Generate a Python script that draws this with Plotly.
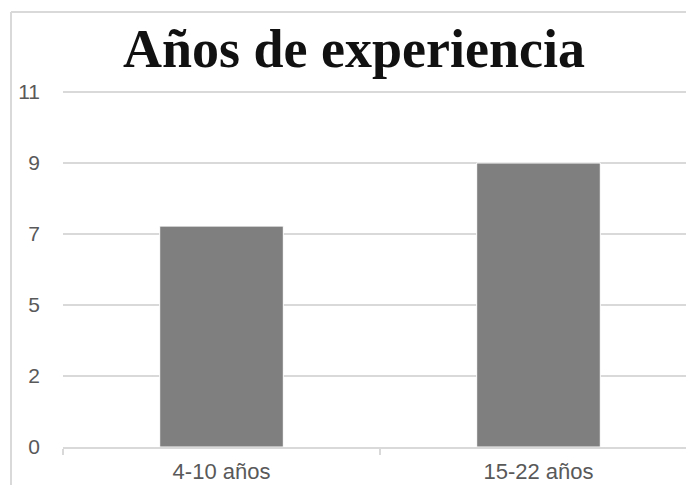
import plotly.graph_objects as go

# Data
categories = ["4-10 años", "15-22 años"]
values = [7, 9]
tick_values = [0, 2.25, 4.5, 6.75, 9, 11.25]
tick_labels = ["0", "2", "5", "7", "9", "11"]

W, H = 686, 485
ml, mt, mb = 63, 88, 38
plot_w = W - ml
plot_h = H - mt - mb
# 11.25 sits 355 px above the baseline; keep a few px of headroom so its gridline shows
y_top = 11.25 * plot_h / 355

fig = go.Figure(
    go.Bar(
        x=categories,
        y=values,
        width=0.39,
        marker=dict(color="#7f7f7f", line=dict(color="#ffffff", width=1)),
    )
)

# chart frame (left and top edges)
def px_x(p):
    return (p - ml) / plot_w

def px_y(p):
    return 1 - (p - mt) / plot_h

frame = dict(color="#d9d9d9", width=2)
fig.add_shape(type="line", xref="paper", yref="paper",
              x0=px_x(11), x1=px_x(11), y0=px_y(12), y1=px_y(H + 5), line=frame)
fig.add_shape(type="line", xref="paper", yref="paper",
              x0=px_x(11), x1=px_x(W + 5), y0=px_y(12), y1=px_y(12), line=frame)

fig.update_layout(
    width=W,
    height=H,
    margin=dict(l=ml, r=0, t=mt, b=mb),
    paper_bgcolor="white",
    plot_bgcolor="white",
    showlegend=False,
    title=dict(
        text="<b>Años de experiencia</b>",
        font=dict(family="Liberation Serif", size=54, color="#111111"),
        x=354 / W,
        xanchor="center",
        xref="container",
        y=1 - 48 / H,
        yanchor="middle",
        yref="container",
    ),
    font=dict(family="Liberation Sans", color="#595959", size=21),
)

fig.update_xaxes(
    type="category",
    range=[-0.5, 1.5 - 11 / 317],
    automargin=False,
    showgrid=False,
    showline=True,
    linecolor="#d9d9d9",
    linewidth=2,
    ticks="outside",
    tickson="boundaries",
    ticklen=6,
    tickcolor="#d9d9d9",
    tickwidth=2,
    tickfont=dict(size=22, color="#595959"),
    ticklabelstandoff=4,
)

fig.update_yaxes(
    range=[0, y_top],
    automargin=False,
    tickvals=tick_values,
    ticktext=tick_labels,
    showgrid=True,
    gridcolor="#d9d9d9",
    gridwidth=2,
    zeroline=False,
    showline=False,
    ticks="",
    tickfont=dict(size=21, color="#595959"),
    ticklabelstandoff=22,
)

fig.write_html("out.html")
